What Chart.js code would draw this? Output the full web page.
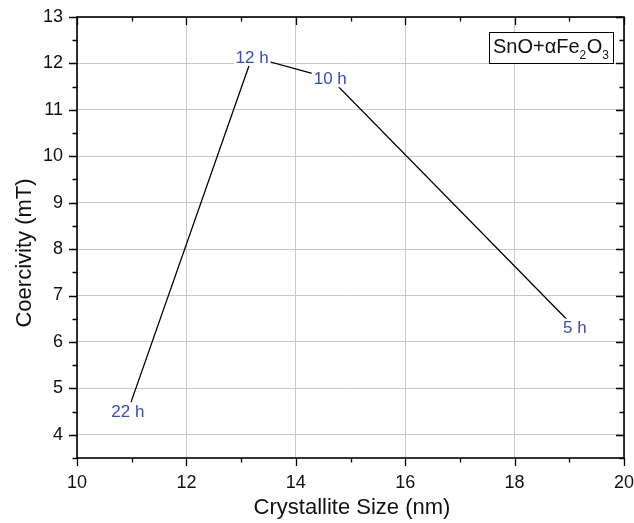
<!DOCTYPE html>
<html><head><meta charset="utf-8">
<script src="https://cdn.jsdelivr.net/npm/chart.js@4.4.1/dist/chart.umd.min.js"></script>
<style>html,body{margin:0;padding:0;background:#fff}#wrap{width:634px;height:523px}</style>
</head><body><div id="wrap"><canvas id="c" width="634" height="523"></canvas></div>
<script>
// ---- data ----
const pointLabels = ['22 h', '12 h', '10 h', '5 h'];
const crystalliteSize = [10.93, 13.2, 14.63, 19.1];
const coercivity = [4.51, 12.14, 11.68, 6.31];
const xTicks = [10, 12, 14, 16, 18, 20];
const yTicks = [4, 5, 6, 7, 8, 9, 10, 11, 12, 13];
const xTitle = 'Crystallite Size (nm)';
const yTitle = 'Coercivity (mT)';
const legendParts = [['SnO+\u03B1Fe', false], ['2', true], ['O', false], ['3', true]];

const FONT = "'Liberation Sans', Arial, Helvetica, sans-serif";
const LABEL_COLOR = '#3b4caa';

const points = crystalliteSize.map((x, i) => ({x: x, y: coercivity[i]}));

const overlay = {
  id: 'overlay',
  afterDraw(chart) {
    const ctx = chart.ctx;
    const xs = chart.scales.x, ys = chart.scales.y;
    const a = chart.chartArea;
    ctx.save();
    // point labels with white background (gap in line)
    ctx.font = '17px ' + FONT;
    ctx.textAlign = 'center';
    ctx.textBaseline = 'middle';
    const meta = chart.getDatasetMeta(0);
    meta.data.forEach((el, i) => {
      const t = pointLabels[i];
      const w = ctx.measureText(t).width;
      ctx.fillStyle = '#fff';
      ctx.fillRect(el.x - w / 2 - 2, el.y - 9, w + 4, 18);
      ctx.fillStyle = LABEL_COLOR;
      ctx.fillText(t, el.x, el.y + 1);
    });
    // frame
    ctx.strokeStyle = '#000';
    ctx.lineWidth = 1.6;
    ctx.strokeRect(a.left, a.top, a.right - a.left, a.bottom - a.top);
    // ticks
    ctx.lineWidth = 1.3;
    ctx.beginPath();
    const minorX = [], minorY = [];
    for (let i = 0; i < xTicks.length - 1; i++) minorX.push((xTicks[i] + xTicks[i + 1]) / 2);
    for (let i = 0; i < yTicks.length - 1; i++) minorY.push((yTicks[i] + yTicks[i + 1]) / 2);
    minorY.unshift(yTicks[0] - (yTicks[1] - yTicks[0]) / 2);
    const xt = (v, len) => {
      const p = Math.round(xs.getPixelForValue(v)) + 0.5;
      ctx.moveTo(p, a.bottom); ctx.lineTo(p, a.bottom + len);
      ctx.moveTo(p, a.top); ctx.lineTo(p, a.top + len);
    };
    const yt = (v, len) => {
      const p = Math.round(ys.getPixelForValue(v)) + 0.5;
      ctx.moveTo(a.left, p); ctx.lineTo(a.left - len, p);
      ctx.moveTo(a.right, p); ctx.lineTo(a.right - len, p);
    };
    xTicks.forEach(v => xt(v, 8));
    minorX.forEach(v => xt(v, 4.5));
    yTicks.forEach(v => yt(v, 8));
    minorY.forEach(v => yt(v, 4.5));
    ctx.stroke();
    // axis titles
    ctx.fillStyle = '#111';
    ctx.font = '22px ' + FONT;
    ctx.textAlign = 'center';
    ctx.textBaseline = 'alphabetic';
    ctx.fillText(xTitle, 352, 514);
    ctx.save();
    ctx.translate(31, 253);
    ctx.rotate(-Math.PI / 2);
    ctx.fillText(yTitle, 0, 0);
    ctx.restore();
    // legend box
    const bx = 489, by = 32, bw = 124, bh = 31;
    ctx.fillStyle = '#fff';
    ctx.fillRect(bx, by, bw, bh);
    ctx.lineWidth = 1;
    ctx.strokeStyle = '#000';
    ctx.strokeRect(bx + 0.5, by + 0.5, bw, bh);
    ctx.fillStyle = '#111';
    ctx.textAlign = 'left';
    let cx = bx + 4;
    const base = by + 21;
    legendParts.forEach(([t, sub]) => {
      ctx.font = (sub ? '12px ' : '20px ') + FONT;
      ctx.fillText(t, cx, sub ? base + 6 : base);
      cx += ctx.measureText(t).width + (sub ? 0.5 : 0);
    });
    ctx.restore();
  }
};

const noPad = s => { s.paddingLeft = 0; s.paddingRight = 0; s.paddingTop = 0; s.paddingBottom = 0; };

new Chart(document.getElementById('c'), {
  type: 'scatter',
  data: {
    datasets: [{
      data: points,
      showLine: true,
      borderColor: '#000',
      borderWidth: 1.3,
      pointRadius: 0,
      pointHoverRadius: 0,
      tension: 0,
      fill: false
    }]
  },
  options: {
    responsive: false,
    animation: false,
    events: [],
    layout: {padding: {top: 17, right: 10, left: 0, bottom: 0}},
    plugins: {legend: {display: false}, tooltip: {enabled: false}},
    scales: {
      x: {
        type: 'linear', min: 10, max: 20,
        afterBuildTicks: s => { s.ticks = xTicks.map(v => ({value: v})); },
        afterFit: s => { s.height = 65; noPad(s); },
        grid: {color: '#c8c8c8', lineWidth: 1, drawTicks: false},
        border: {display: false},
        ticks: {color: '#111', padding: 14, font: {family: FONT, size: 18}, maxRotation: 0}
      },
      y: {
        type: 'linear', min: 3.5, max: 13,
        afterBuildTicks: s => { s.ticks = yTicks.map(v => ({value: v})); },
        afterFit: s => { s.width = 77; noPad(s); },
        grid: {color: '#c8c8c8', lineWidth: 1, drawTicks: false},
        border: {display: false},
        ticks: {color: '#111', padding: 14, font: {family: FONT, size: 18}}
      }
    }
  },
  plugins: [overlay]
});
</script>
</body></html>
